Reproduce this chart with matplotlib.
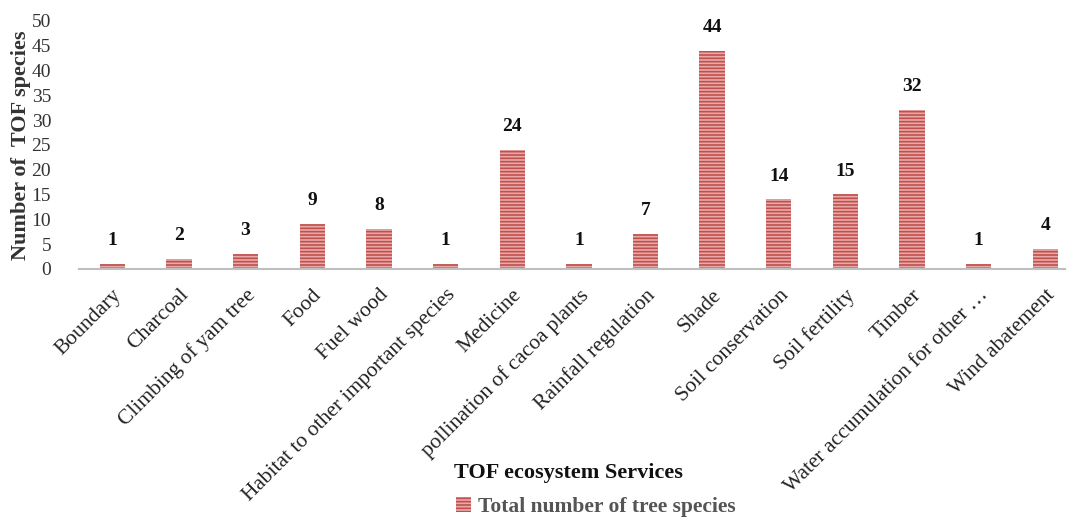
import matplotlib
matplotlib.use('Agg')
import matplotlib.pyplot as plt
import numpy as np

plt.rcParams['font.family'] = ['Liberation Serif', 'DejaVu Serif']
plt.rcParams['hatch.color'] = '#C0504D'
plt.rcParams['hatch.linewidth'] = 1.2

categories = ['Boundary', 'Charcoal', 'Climbing of yam tree', 'Food', 'Fuel wood',
              'Habitat to other important species', 'Medicine',
              'pollination of cacoa plants', 'Rainfall regulation', 'Shade',
              'Soil conservation', 'Soil fertility', 'Timber',
              'Water accumulation for other \u2026', 'Wind abatement']
counts = [1, 2, 3, 9, 8, 1, 24, 1, 7, 44, 14, 15, 32, 1, 4]

fig = plt.figure(figsize=(10.66, 5.2), dpi=100)
ax = fig.add_axes([0.074, 0.483, 0.938, 0.477])

x = np.arange(len(categories))
bars = ax.bar(x, counts, width=0.38, color='#E8AAA9', edgecolor='#C0504D',
              hatch='-----', linewidth=0, label='Total number of tree species')

for xi, v in zip(x, counts):
    ax.text(xi, v + 3, str(v), ha='center', va='bottom', fontsize=14,
            fontweight='bold', color='#111111')

ax.set_xlim(-0.5, len(categories) - 0.5)
ax.set_ylim(0, 50)
ax.set_yticks(np.arange(0, 51, 5))
ax.tick_params(axis='y', length=0, labelsize=14, colors='#333333', pad=20)
ax.tick_params(axis='x', length=0, labelsize=15.5, colors='#222222', pad=12)
ax.set_xticks(x)
ax.set_xticklabels(categories, rotation=45, ha='right', rotation_mode='anchor')
for s in ['top', 'right', 'left']:
    ax.spines[s].set_visible(False)
ax.spines['bottom'].set_color('#BFBFBF')
ax.spines['bottom'].set_linewidth(1.5)

ax.set_ylabel('Number of  TOF species', fontsize=16, fontweight='bold',
              color='#333333', labelpad=0)
fig.text(0.533, 0.09, 'TOF ecosystem Services', ha='center', va='center',
         fontsize=16, fontweight='bold', color='#111111')

fig.legend(handles=[bars], labels=['Total number of tree species'],
           loc='center', bbox_to_anchor=(0.559, 0.025), frameon=False,
           handlelength=0.7, handleheight=0.7, handletextpad=0.3,
           prop={'weight': 'bold', 'size': 15.5})
for t in fig.legends[0].get_texts():
    t.set_color('#555555')

fig.savefig('out.png', dpi=100)
